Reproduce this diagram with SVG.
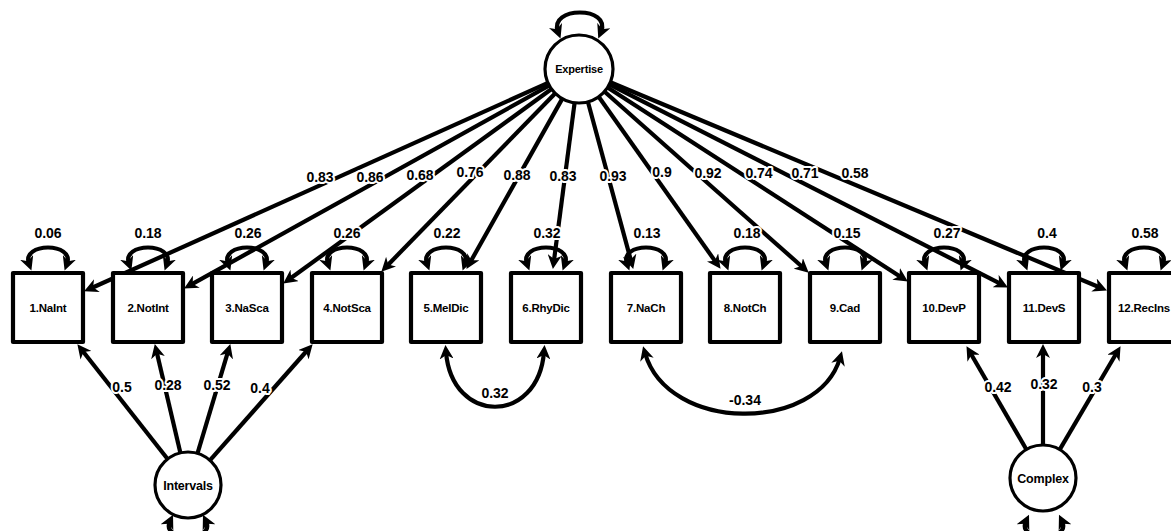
<svg xmlns="http://www.w3.org/2000/svg" width="1171" height="531" viewBox="0 0 1171 531">
  <style>
    .edge { fill: none; stroke: #000; stroke-width: 4.2; stroke-linecap: butt; }
    .one { marker-end: url(#head); }
    .two { marker-start: url(#head); marker-end: url(#head); }
    .box { fill: #fff; stroke: #000; stroke-width: 4.2; stroke-linejoin: round; }
    .lat { fill: #fff; stroke: #000; stroke-width: 3.2; }
    .lbl { font-family: "Liberation Sans", Arial, sans-serif; font-weight: bold; font-size: 14px; text-anchor: middle; fill: #000; stroke: #fff; stroke-width: 4; paint-order: stroke; stroke-linejoin: round; }
    .name { font-family: "Liberation Sans", Arial, sans-serif; font-weight: bold; font-size: 11.5px; text-anchor: middle; fill: #000; letter-spacing: -0.2px; }
    .lname { font-family: "Liberation Sans", Arial, sans-serif; font-weight: bold; font-size: 12.5px; text-anchor: middle; fill: #000; letter-spacing: -0.2px; }
  </style>
  <defs>
    <marker id="head" viewBox="0 0 12 12" refX="6" refY="6" markerWidth="14" markerHeight="14" markerUnits="userSpaceOnUse" orient="auto-start-reverse">
      <path d="M0,0 L12,6 L0,12 L3.5,6 Z" fill="#000"/>
    </marker>
  </defs>
  <rect width="1171" height="531" fill="#fff"/>

  <g id="connectors">
    <!-- Expertise loadings -->
    <path class="edge one" d="M548.0,82.9 L90.5,288.5"/>
    <path class="edge one" d="M549.3,85.5 L190.2,285.1"/>
    <path class="edge one" d="M551.5,89.0 L288.9,279.5"/>
    <path class="edge one" d="M555.3,93.3 L386.2,266.7"/>
    <path class="edge one" d="M562.3,98.6 L469.9,262.8"/>
    <path class="edge one" d="M574.6,102.7 L553.8,262.0"/>
    <path class="edge one" d="M587.9,101.8 L631.4,262.2"/>
    <path class="edge one" d="M598.7,96.7 L716.5,263.1"/>
    <path class="edge one" d="M604.4,91.5 L803.5,268.0"/>
    <path class="edge one" d="M607.6,87.5 L902.0,277.7"/>
    <path class="edge one" d="M609.3,84.4 L1001.7,284.3"/>
    <path class="edge one" d="M610.4,82.2 L1100.5,287.7"/>

    <!-- Intervals loadings -->
    <path class="edge one" d="M167.6,459.0 L81.7,349.7"/>
    <path class="edge one" d="M180.4,452.9 L156.4,350.8"/>
    <path class="edge one" d="M197.5,453.4 L228.3,350.7"/>
    <path class="edge one" d="M209.9,460.3 L308.0,349.5"/>

    <!-- Complex loadings -->
    <path class="edge one" d="M1026.4,449.5 L970.0,352.2"/>
    <path class="edge one" d="M1043,445 L1043,351"/>
    <path class="edge one" d="M1059.7,449.6 L1117.0,352.2"/>

    <!-- residual variances -->
    <path class="edge two" d="M29,264 C21,242 75,242 67,264"/>
    <path class="edge two" d="M129,264 C121,242 175,242 167,264"/>
    <path class="edge two" d="M228,264 C220,242 274,242 266,264"/>
    <path class="edge two" d="M328,264 C320,242 374,242 366,264"/>
    <path class="edge two" d="M427,264 C419,242 473,242 465,264"/>
    <path class="edge two" d="M527,264 C519,242 573,242 565,264"/>
    <path class="edge two" d="M627,264 C619,242 673,242 665,264"/>
    <path class="edge two" d="M726,264 C718,242 772,242 764,264"/>
    <path class="edge two" d="M826,264 C818,242 872,242 864,264"/>
    <path class="edge two" d="M925,264 C917,242 971,242 963,264"/>
    <path class="edge two" d="M1025,264 C1017,242 1071,242 1063,264"/>
    <path class="edge two" d="M1125,264 C1117,242 1171,242 1163,264"/>

    <!-- latent variances -->
    <path class="edge two" d="M558,32 C548,6 612,6 601,32"/>
    <path class="edge two" d="M170,521 C160,542 216,542 206,521"/>
    <path class="edge two" d="M1026,521 C1016,542 1072,542 1062,521"/>

    <!-- residual covariances -->
    <path class="edge two" d="M446,352 C452,425 538,425 544,352"/>
    <path class="edge two" d="M645,353 C668,433 818,433 840,358"/>

    <!-- loading labels -->
    <text class="lbl" x="320" y="182">0.83</text>
    <text class="lbl" x="370" y="182">0.86</text>
    <text class="lbl" x="420" y="180">0.68</text>
    <text class="lbl" x="470" y="177">0.76</text>
    <text class="lbl" x="517" y="180">0.88</text>
    <text class="lbl" x="563" y="181">0.83</text>
    <text class="lbl" x="613" y="181">0.93</text>
    <text class="lbl" x="662" y="177">0.9</text>
    <text class="lbl" x="708" y="178">0.92</text>
    <text class="lbl" x="759" y="178">0.74</text>
    <text class="lbl" x="805" y="178">0.71</text>
    <text class="lbl" x="855" y="178">0.58</text>

    <!-- variance labels -->
    <text class="lbl" x="48" y="238">0.06</text>
    <text class="lbl" x="148" y="238">0.18</text>
    <text class="lbl" x="248" y="238">0.26</text>
    <text class="lbl" x="347" y="238">0.26</text>
    <text class="lbl" x="447" y="238">0.22</text>
    <text class="lbl" x="547" y="238">0.32</text>
    <text class="lbl" x="647" y="238">0.13</text>
    <text class="lbl" x="747" y="238">0.18</text>
    <text class="lbl" x="847" y="238">0.15</text>
    <text class="lbl" x="947" y="238">0.27</text>
    <text class="lbl" x="1047" y="238">0.4</text>
    <text class="lbl" x="1145" y="238">0.58</text>

    <!-- lower loading labels -->
    <text class="lbl" x="122" y="392">0.5</text>
    <text class="lbl" x="168" y="390">0.28</text>
    <text class="lbl" x="217" y="390">0.52</text>
    <text class="lbl" x="260" y="393">0.4</text>
    <text class="lbl" x="998" y="392">0.42</text>
    <text class="lbl" x="1044" y="389">0.32</text>
    <text class="lbl" x="1092" y="392">0.3</text>

    <!-- covariance labels -->
    <text class="lbl" x="495" y="398">0.32</text>
    <text class="lbl" x="745" y="405">-0.34</text>
  </g>

  <g id="expertise">
    <circle class="lat" cx="579" cy="69" r="34"/>
    <text class="name" x="579" y="73" style="font-size:11px">Expertise</text>
  </g>
  <g id="intervals">
    <circle class="lat" cx="188" cy="485" r="33"/>
    <text class="lname" x="188" y="489.5">Intervals</text>
  </g>
  <g id="complex">
    <circle class="lat" cx="1043" cy="478" r="33"/>
    <text class="lname" x="1043" y="482.5">Complex</text>
  </g>

  <g id="v1"><rect class="box" x="13" y="273" width="70" height="69"/><text class="name" x="48" y="312">1.NaInt</text></g>
  <g id="v2"><rect class="box" x="113" y="273" width="70" height="69"/><text class="name" x="148" y="312">2.NotInt</text></g>
  <g id="v3"><rect class="box" x="212" y="273" width="70" height="69"/><text class="name" x="247" y="312">3.NaSca</text></g>
  <g id="v4"><rect class="box" x="312" y="273" width="70" height="69"/><text class="name" x="347" y="312">4.NotSca</text></g>
  <g id="v5"><rect class="box" x="411" y="273" width="70" height="69"/><text class="name" x="446" y="312">5.MelDic</text></g>
  <g id="v6"><rect class="box" x="511" y="273" width="70" height="69"/><text class="name" x="546" y="312">6.RhyDic</text></g>
  <g id="v7"><rect class="box" x="611" y="273" width="70" height="69"/><text class="name" x="646" y="312">7.NaCh</text></g>
  <g id="v8"><rect class="box" x="710" y="273" width="70" height="69"/><text class="name" x="745" y="312">8.NotCh</text></g>
  <g id="v9"><rect class="box" x="810" y="273" width="70" height="69"/><text class="name" x="845" y="312">9.Cad</text></g>
  <g id="v10"><rect class="box" x="909" y="273" width="70" height="69"/><text class="name" x="944" y="312">10.DevP</text></g>
  <g id="v11"><rect class="box" x="1009" y="273" width="70" height="69"/><text class="name" x="1044" y="312">11.DevS</text></g>
  <g id="v12"><rect class="box" x="1109" y="273" width="70" height="69"/><text class="name" x="1144" y="312">12.RecIns</text></g>
</svg>
